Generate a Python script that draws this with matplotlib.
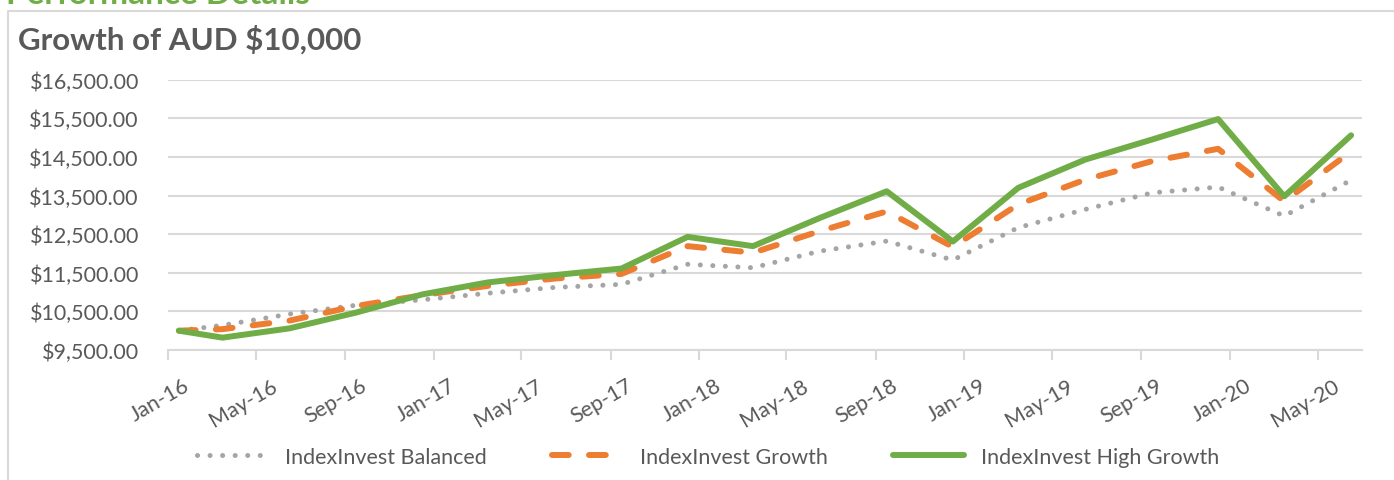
import matplotlib
matplotlib.use("Agg")
import matplotlib.pyplot as plt  # noqa: E402
import matplotlib.dates as mdates  # noqa: E402
import matplotlib.ticker as mticker  # noqa: E402
import matplotlib.transforms as mtransforms  # noqa: E402
from matplotlib.lines import Line2D  # noqa: E402
import pandas as pd  # noqa: E402

# quarterly values (Jan-16 start, then quarter ends)
dates = ["2016-01", "2016-03", "2016-06", "2016-09", "2016-12",
         "2017-03", "2017-06", "2017-09", "2017-12",
         "2018-03", "2018-06", "2018-09", "2018-12",
         "2019-03", "2019-06", "2019-09", "2019-12",
         "2020-03", "2020-06"]
balanced = [10000, 10140, 10430, 10660, 10800, 10970, 11120, 11200, 11720,
            11630, 12060, 12320, 11830, 12670, 13140, 13570, 13720, 12970, 13900]
growth = [10000, 10040, 10260, 10640, 10920, 11160, 11350, 11470, 12190,
          12020, 12580, 13090, 12170, 13270, 13910, 14390, 14710, 13350, 14640]
high_growth = [10000, 9820, 10060, 10470, 10940, 11250, 11440, 11610, 12430,
               12190, 12920, 13610, 12310, 13700, 14430, 14950, 15480, 13480, 15060]
series_names = ["IndexInvest Balanced", "IndexInvest Growth", "IndexInvest High Growth"]
y_ticks = [9500, 10500, 11500, 12500, 13500, 14500, 15500, 16500]

plt.rcParams["font.family"] = ["Lato", "DejaVu Sans"]
TXT = "#595959"
GRID = "#D9D9D9"
FS = 15.5

# put each point in the middle of its month, like excel's date axis
x = pd.to_datetime(dates) + pd.Timedelta(days=15)

fig = plt.figure(figsize=(13.94, 4.81), dpi=100)
ax = fig.add_axes([168 / 1394, 1 - 351 / 481, (1362 - 168) / 1394, (351 - 80.7) / 481])

ax.plot(x, balanced, color="#A5A5A5", lw=3.6, linestyle=(0, (0.01, 2.5)),
        dash_capstyle="round", label=series_names[0])
ax.plot(x, growth, color="#ED7D31", lw=4.3, linestyle=(0, (2.8, 3.4)),
        dash_capstyle="round", label=series_names[1])
ax.plot(x, high_growth, color="#70AD47", lw=4.3, solid_capstyle="round",
        solid_joinstyle="round", label=series_names[2])

ax.set_xlim(pd.Timestamp("2016-01-01"), pd.Timestamp("2020-07-01"))
ax.set_ylim(9500, 16500)
ax.set_yticks(y_ticks)
ax.yaxis.set_major_formatter(mticker.StrMethodFormatter("${x:,.2f}"))
ax.xaxis.set_major_locator(mdates.MonthLocator(bymonth=[1, 5, 9]))
ax.xaxis.set_major_formatter(mdates.DateFormatter("%b-%y"))

ax.grid(axis="y", color=GRID, lw=1.5)
ax.set_axisbelow(True)
for s in ["top", "right", "left"]:
    ax.spines[s].set_visible(False)
ax.spines["bottom"].set_color(GRID)
ax.spines["bottom"].set_linewidth(1.5)
ax.tick_params(axis="y", length=0, pad=21, labelsize=FS, labelcolor=TXT)
ax.tick_params(axis="x", length=7, width=1.5, color=GRID, pad=11, labelsize=FS, labelcolor=TXT)
shift = mtransforms.ScaledTranslation(15 / 100, 0, fig.dpi_scale_trans)
for lab in ax.get_xticklabels():
    lab.set_rotation(30)
    lab.set_ha("right")
    lab.set_va("top")
    lab.set_rotation_mode("anchor")
    lab.set_transform(lab.get_transform() + shift)

fig.legend(loc="center", bbox_to_anchor=(0.508, 1 - 458 / 481), ncol=3, frameon=False,
           fontsize=FS, labelcolor=TXT, handlelength=3.3, handletextpad=0.8,
           columnspacing=3.0)

fig.text(18 / 1394, 1 - 50 / 481, "Growth of AUD $10,000", fontsize=22.5,
         fontweight="bold", color=TXT, va="baseline")
fig.text(6 / 1394, 1 - 4 / 481, "Performance Details", fontsize=24,
         fontweight="bold", color="#70AD47", va="baseline")

# chart box border (only left and top edges visible in the crop)
fig.add_artist(Line2D([8 / 1394, 8 / 1394, 1], [0, 1 - 12 / 481, 1 - 12 / 481],
                      transform=fig.transFigure, color=GRID, lw=1.5))

fig.savefig("out.png", dpi=100)
